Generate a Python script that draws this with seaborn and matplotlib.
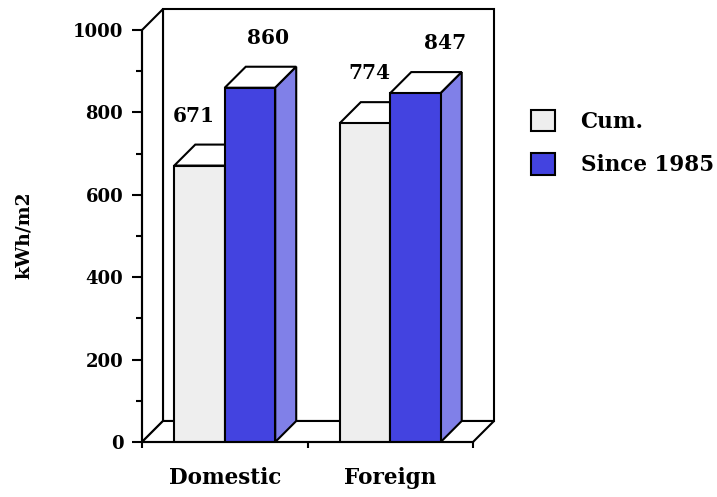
import matplotlib
matplotlib.use('Agg')
import matplotlib.pyplot as plt
from matplotlib.patches import Polygon, Patch, Rectangle
import pandas as pd
import seaborn as sns

sites = ['Domestic', 'Foreign']
periods = ['Cum.', 'Since 1985']
cum_vals = [671, 774]
since_vals = [860, 847]

front_colors = ['#EEEEEE', '#4343E0']
side_colors = ['#DDDDDD', '#8080E8']

df = pd.DataFrame({
    'site': sites * 2,
    'period': [periods[0]] * 2 + [periods[1]] * 2,
    'kwh': cum_vals + since_vals,
})

sns.set_style('white')
plt.rcParams['font.family'] = ['DejaVu Serif']
plt.rcParams['font.weight'] = 'bold'
plt.rcParams['font.size'] = 13
for key in ['text.color', 'axes.labelcolor', 'xtick.color', 'ytick.color']:
    plt.rcParams[key] = 'black'

DPI = 100
fig = plt.figure(figsize=(7.17, 4.97), dpi=DPI)
ax = fig.add_axes([142 / 717, 55 / 497, 352 / 717, 435 / 497])

# 3d depth, in data units
ddx = 21 / 165.5
ddy = 51
lw = 1.5

sns.barplot(data=df, x='site', y='kwh', hue='period', palette=front_colors, saturation=1,
            width=0.61, edgecolor='black', linewidth=lw, legend=False, ax=ax)

ax.set_xlim(-0.5, 1.5 + ddx)
ax.set_ylim(0, 1056)

# walls and floor
ax.add_patch(Polygon([(-0.5 + ddx, ddy), (1.5 + ddx, ddy), (1.5 + ddx, 1000 + ddy), (-0.5 + ddx, 1000 + ddy)],
                     closed=True, facecolor='white', edgecolor='black', lw=lw, zorder=1, clip_on=False))
ax.add_patch(Polygon([(-0.5, 0), (-0.5 + ddx, ddy), (-0.5 + ddx, 1000 + ddy), (-0.5, 1000)],
                     closed=True, facecolor='white', edgecolor='black', lw=lw, zorder=1, clip_on=False))
ax.add_patch(Polygon([(-0.5, 0), (1.5, 0), (1.5 + ddx, ddy), (-0.5 + ddx, ddy)],
                     closed=True, facecolor='white', edgecolor='black', lw=lw, zorder=1.5, clip_on=False))

bars = sorted([p for p in ax.patches if isinstance(p, Rectangle) and p.get_height() > 0],
              key=lambda p: p.get_x())
label_nudge_px = [-6, 18, 4, 30]
for i, p in enumerate(bars):
    x0, w, h = p.get_x(), p.get_width(), p.get_height()
    k = i % 2
    z = 3 + i
    p.set_zorder(z + 0.5)
    ax.add_patch(Polygon([(x0, h), (x0 + w, h), (x0 + w + ddx, h + ddy), (x0 + ddx, h + ddy)],
                         closed=True, facecolor='white', edgecolor='black', lw=lw, zorder=z, clip_on=False))
    ax.add_patch(Polygon([(x0 + w, 0), (x0 + w + ddx, ddy), (x0 + w + ddx, h + ddy), (x0 + w, h)],
                         closed=True, facecolor=side_colors[k], edgecolor='black', lw=lw, zorder=z, clip_on=False))
    ax.annotate(str(int(round(h))), xy=(x0 + w / 2, h),
                xytext=(label_nudge_px[i] * 72 / DPI, 50 * 72 / DPI), textcoords='offset points',
                ha='center', va='center', fontweight='bold', fontsize=14.5, zorder=20)

# axes styling
for s in ['top', 'right']:
    ax.spines[s].set_visible(False)
ax.spines['left'].set_bounds(0, 1000)
ax.spines['bottom'].set_bounds(-0.5, 1.5)
for s in ['left', 'bottom']:
    ax.spines[s].set_linewidth(lw)
    ax.spines[s].set_color('black')
    ax.spines[s].set_zorder(10)

ax.set_yticks(range(0, 1001, 200))
ax.set_yticks(range(100, 1000, 200), minor=True)
ax.tick_params(axis='y', which='major', length=7.5, width=lw, pad=6, left=True, labelsize=13)
ax.tick_params(axis='y', which='minor', length=4, width=lw, left=True)

ax.set_xticks([0, 1])
ax.set_xticklabels(sites)
ax.set_xticks([-0.5, 0.5, 1.5], minor=True)
ax.tick_params(axis='x', which='major', length=0, pad=18, labelsize=15.5)
ax.tick_params(axis='x', which='minor', length=4.5, width=lw, bottom=True)

ax.set_xlabel('')
ax.set_ylabel('kWh/m2', fontweight='bold', fontsize=13.5)
ax.yaxis.set_label_coords((33 - 142) / 352, (442 - 235) / 435)

handles = [Patch(facecolor=c, edgecolor='black', lw=lw) for c in front_colors]
fig.legend(handles, periods, loc='upper left', bbox_to_anchor=(531 / 717, 1 - 110 / 497),
           frameon=False, borderpad=0, borderaxespad=0, handlelength=1.1, handleheight=1.15,
           handletextpad=1.2, labelspacing=0.95, prop={'weight': 'bold', 'size': 15.5})

fig.savefig('out.png', dpi=DPI)
